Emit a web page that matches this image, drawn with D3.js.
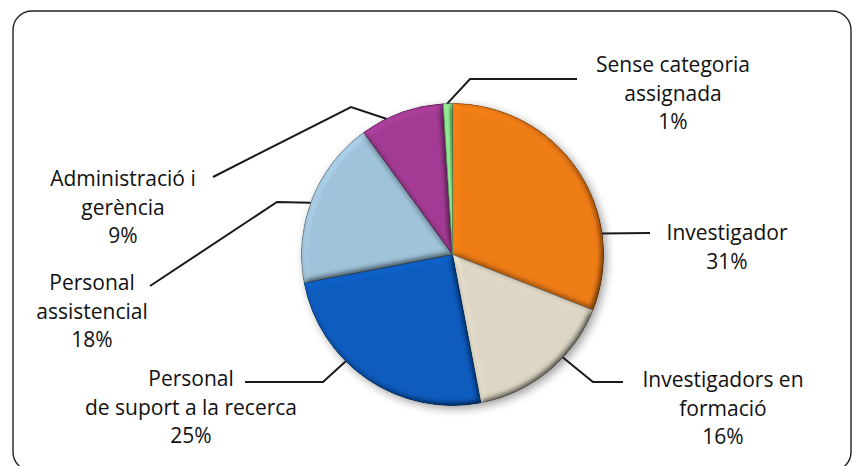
<!DOCTYPE html>
<html>
<head>
<meta charset="utf-8">
<script src="https://cdn.jsdelivr.net/npm/d3@7"></script>
<style>
  body { margin: 0; background: #fff; }
  svg text { font-family: "Open Sans", Lato, sans-serif; fill: #111; }
</style>
</head>
<body>
<svg id="canvas" width="852" height="466"></svg>
<script>
// data
let categories = ['Investigador', 'Investigadors en formació', 'Personal de suport a la recerca',
                  'Personal assistencial', 'Administració i gerència', 'Sense categoria assignada']
let values = [31, 16, 25, 18, 9, 1]
let colors = ['#ef7d17', '#ddd6c4', '#0b5cbf', '#9fc3d9', '#a33b94', '#8ee58e']

// how each label is broken into lines
let labelLines = [
  ['Investigador', '31%'],
  ['Investigadors en', 'formació', '16%'],
  ['Personal', 'de suport a la recerca', '25%'],
  ['Personal', 'assistencial', '18%'],
  ['Administració i', 'gerència', '9%'],
  ['Sense categoria', 'assignada', '1%']
]

// label placement: rim angle where the leader starts, elbow, end, text centre / first baseline
let labelLayout = [
  {angle: 82,  elbow: null,       end: [650, 233], text: [727, 240]},
  {angle: 133, elbow: [593, 382], end: [623, 382], text: [723, 387]},
  {angle: 225, elbow: [323, 382], end: [245, 382], text: [191, 386]},
  {angle: 290, elbow: [277, 202], end: [150, 286], text: [92, 290]},
  {angle: 334, elbow: [351, 107], end: [213, 177], text: [123, 186]},
  {angle: 358, elbow: [470, 79],  end: [577, 79],  text: [673, 72]}
]

let cx = 452.5, cy = 254.5, radius = 151

let canvas = d3.select('#canvas')

// frame
canvas.append('rect')
  .attr('x', 13).attr('y', 11)
  .attr('width', 838).attr('height', 460)
  .attr('rx', 19).attr('ry', 19)
  .attr('fill', 'none')
  .attr('stroke', '#222')
  .attr('stroke-width', 1.4)

let defs = canvas.append('defs')

// soft shadow under the pie
let shadow = defs.append('filter').attr('id', 'shadow')
  .attr('x', '-20%').attr('y', '-20%').attr('width', '140%').attr('height', '140%')
shadow.append('feGaussianBlur').attr('in', 'SourceAlpha').attr('stdDeviation', 5)
shadow.append('feOffset').attr('dx', 3).attr('dy', 3).attr('result', 'off')
shadow.append('feComponentTransfer').append('feFuncA').attr('type', 'linear').attr('slope', 0.4)

// bevel on each slice
let bevel = defs.append('filter').attr('id', 'bevel')
  .attr('x', '-5%').attr('y', '-5%').attr('width', '110%').attr('height', '110%')
bevel.append('feGaussianBlur').attr('in', 'SourceAlpha').attr('stdDeviation', 3).attr('result', 'blur')
let diffuse = bevel.append('feDiffuseLighting').attr('in', 'blur')
  .attr('surfaceScale', 5).attr('diffuseConstant', 1)
  .attr('lighting-color', '#fff').attr('result', 'light')
diffuse.append('feDistantLight').attr('azimuth', 225).attr('elevation', 60)
bevel.append('feComposite').attr('in', 'SourceGraphic').attr('in2', 'light')
  .attr('operator', 'arithmetic').attr('k1', 1.15).attr('k2', 0).attr('k3', 0).attr('k4', 0)
  .attr('result', 'lit')
bevel.append('feComposite').attr('in', 'lit').attr('in2', 'SourceAlpha').attr('operator', 'in')

let pie = d3.pie().sort(null).value(d => d)
let arcs = pie(values)
let arc = d3.arc().innerRadius(0).outerRadius(radius)

let pieGroup = canvas.append('g')
  .attr('transform', 'translate(' + cx + ',' + cy + ')')

// shadow disc
pieGroup.append('circle').attr('r', radius)
  .attr('fill', '#888').attr('filter', 'url(#shadow)')

pieGroup.selectAll('path.slice')
  .data(arcs)
  .enter()
  .append('path')
  .attr('class', 'slice')
  .attr('d', arc)
  .attr('fill', (d, i) => colors[i])
  .attr('stroke', (d, i) => d3.color(colors[i]).darker(1.3))
  .attr('stroke-width', 0.9)
  .attr('filter', 'url(#bevel)')

// leader lines
let rimPoint = (deg) => {
  let a = deg * Math.PI / 180
  return [cx + radius * Math.sin(a), cy - radius * Math.cos(a)]
}

canvas.selectAll('path.leader')
  .data(labelLayout)
  .enter()
  .append('path')
  .attr('class', 'leader')
  .attr('d', (l) => {
    let pts = [rimPoint(l.angle)]
    if (l.elbow) pts.push(l.elbow)
    pts.push(l.end)
    return d3.line()(pts)
  })
  .attr('fill', 'none')
  .attr('stroke', '#1a1a1a')
  .attr('stroke-width', 2)

// labels
let labels = canvas.selectAll('text.label')
  .data(labelLayout)
  .enter()
  .append('text')
  .attr('class', 'label')
  .attr('text-anchor', 'middle')
  .attr('font-size', 21)

labels.each(function (l, i) {
  d3.select(this).selectAll('tspan')
    .data(labelLines[i])
    .enter()
    .append('tspan')
    .attr('x', l.text[0])
    .attr('y', (t, j) => l.text[1] + j * 28.5)
    .text(t => t)
})
</script>
</body>
</html>
